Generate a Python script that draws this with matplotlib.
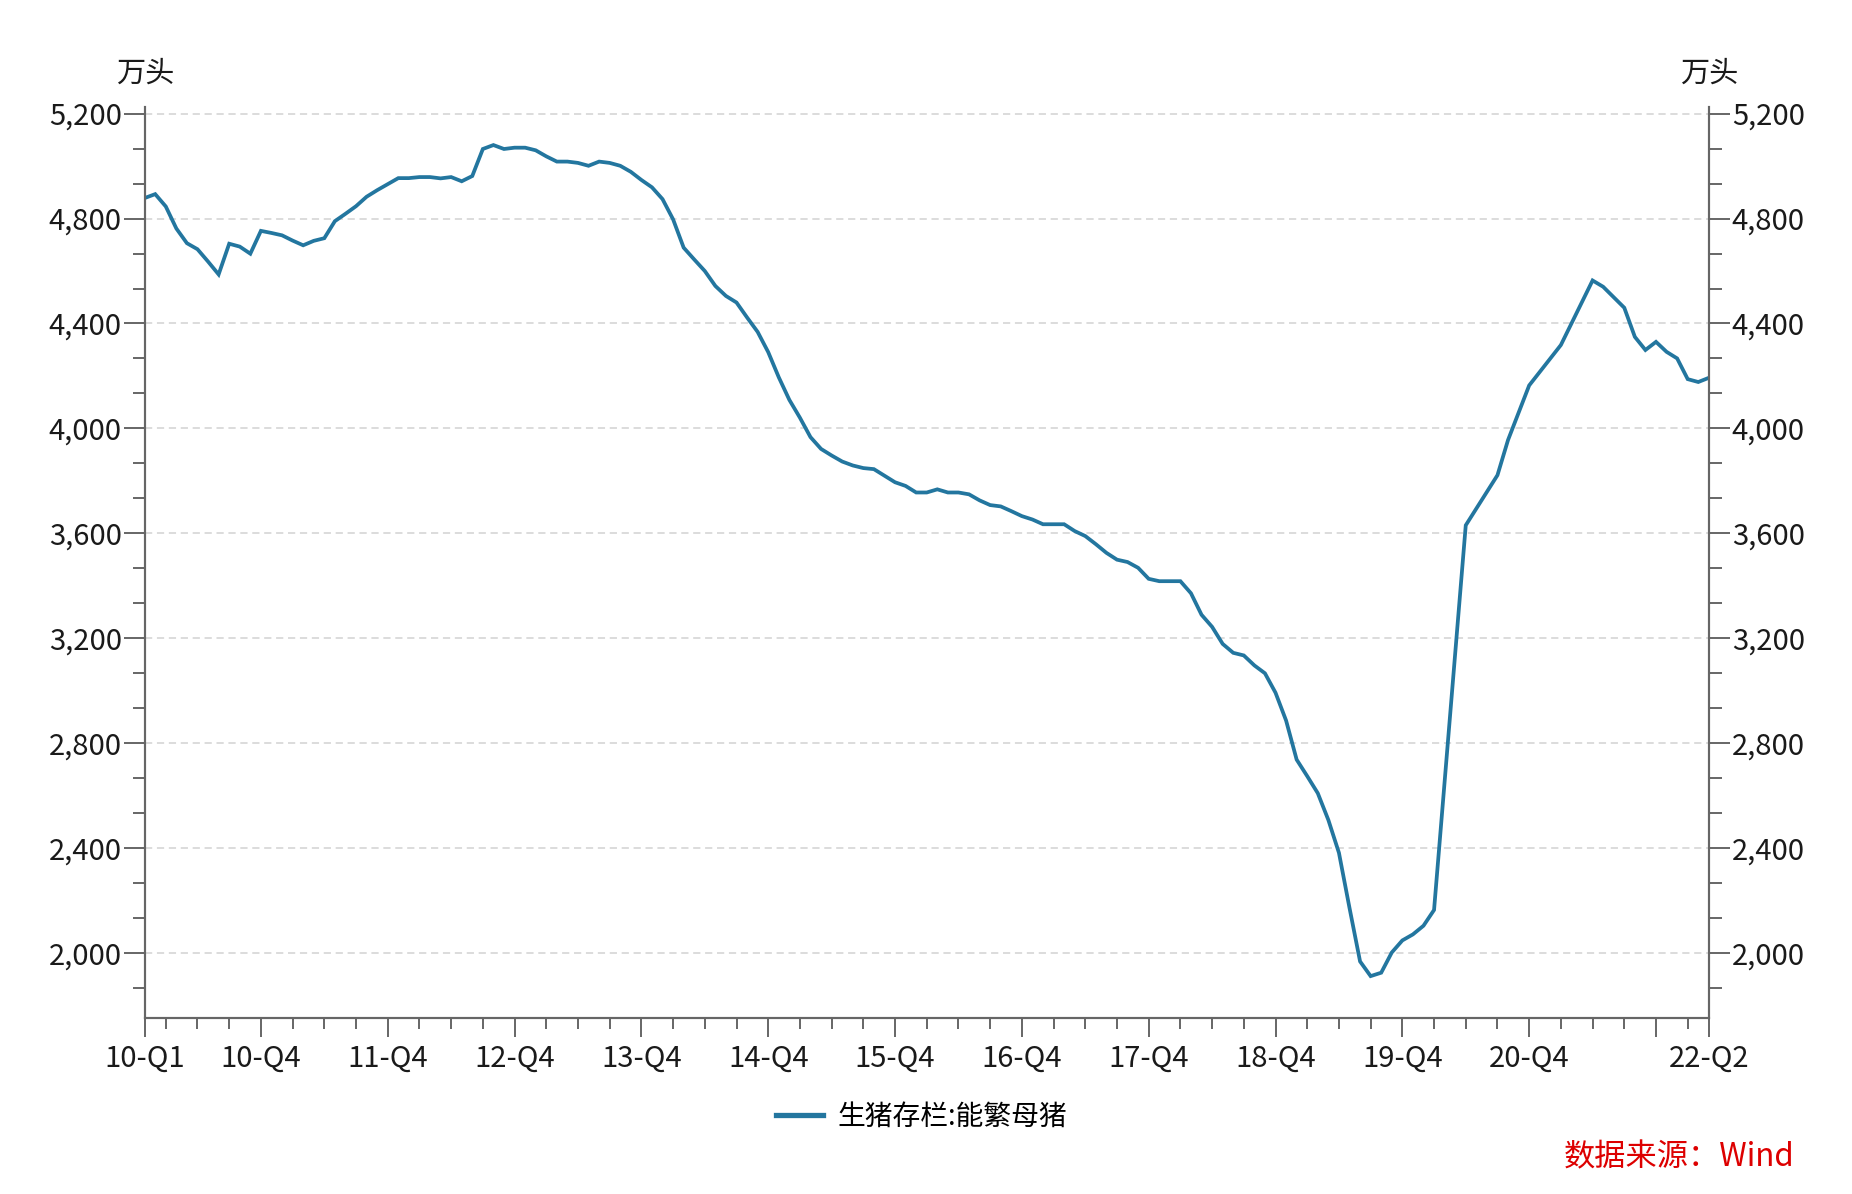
import matplotlib
matplotlib.use("Agg")
import matplotlib.pyplot as plt
from matplotlib.lines import Line2D
from matplotlib.ticker import MultipleLocator, FuncFormatter, FixedLocator

plt.rcParams['font.family'] = ['Noto Sans CJK SC', 'DejaVu Sans']

# month index counted from 2010-01 (gap in 2020 kept as in the source)
months = list(range(0, 123)) + [125, 128, 129, 131, 134, 137, 138] + list(range(140, 149))
sows = [4878, 4893, 4846, 4762, 4706, 4683, 4636, 4587, 4704, 4693, 4666, 4753,
        4745, 4736, 4716, 4698, 4715, 4725, 4790, 4818, 4847, 4883, 4908, 4931,
        4954, 4954, 4958, 4958, 4953, 4958, 4942, 4962, 5065, 5080, 5065, 5070,
        5070, 5060, 5037, 5017, 5017, 5012, 5001, 5017, 5012, 5001, 4978, 4947,
        4919, 4874, 4797, 4689, 4644, 4600, 4543, 4505, 4480, 4423, 4368, 4291,
        4195, 4109, 4041, 3967, 3922, 3897, 3874, 3859, 3849, 3845, 3820, 3795,
        3781, 3756, 3756, 3768, 3756, 3756, 3749, 3726, 3708, 3703, 3685, 3666,
        3653, 3635, 3635, 3635, 3609, 3590, 3559, 3526, 3500, 3491, 3469, 3427,
        3418, 3418, 3418, 3372, 3290, 3244, 3179, 3145, 3135, 3097, 3067, 2993,
        2887, 2738, 2675, 2610, 2508, 2383, 2173, 1969, 1913, 1926, 2003, 2049,
        2072, 2105, 2165,
        3631, 3822, 3956, 4164, 4318, 4564, 4540,
        4460, 4349, 4299, 4330, 4292, 4267, 4188, 4177, 4193]

major_pos = [0, 11, 23, 35, 47, 59, 71, 83, 95, 107, 119, 131, 143, 148]
major_lbl = ['10-Q1', '10-Q4', '11-Q4', '12-Q4', '13-Q4', '14-Q4', '15-Q4', '16-Q4',
             '17-Q4', '18-Q4', '19-Q4', '20-Q4', '', '22-Q2']
minor_pos = [m for m in range(2, 148, 3) if m not in major_pos]

series_name = '生猪存栏:能繁母猪'
unit = '万头'
source = '数据来源：Wind'

line_c = '#23769f'
axis_c = '#666666'

fig = plt.figure(figsize=(18.52, 11.94), dpi=100)
ax = fig.add_axes([0.0781, 0.1471, 0.8446, 0.7635])
ax2 = ax.twinx()

ax.plot(months, sows, color=line_c, lw=2.7, solid_joinstyle='miter', zorder=3)

ymin, ymax = 1752, 5226
for a in (ax, ax2):
    a.set_ylim(ymin, ymax)
    a.yaxis.set_major_locator(MultipleLocator(400))
    a.yaxis.set_minor_locator(MultipleLocator(400 / 3))
    a.yaxis.set_major_formatter(FuncFormatter(lambda v, p: f'{v:,.0f}'))
    a.spines['top'].set_visible(False)
    for s in ['left', 'right', 'bottom']:
        a.spines[s].set_color(axis_c)
        a.spines[s].set_linewidth(1.5)
    a.tick_params(axis='y', which='major', length=15, width=1.4, color=axis_c,
                  labelsize=21, labelcolor='#1a1a1a', pad=1.5)
    a.tick_params(axis='y', which='minor', length=9, width=1.4, color=axis_c)

ax.set_xlim(0, 148)
ax.xaxis.set_major_locator(FixedLocator(major_pos))
ax.set_xticklabels(major_lbl)
ax.xaxis.set_minor_locator(FixedLocator(minor_pos))
ax.tick_params(axis='x', which='major', length=14, width=1.4, color=axis_c,
               labelsize=21, labelcolor='#1a1a1a', pad=4)
ax.tick_params(axis='x', which='minor', length=8, width=1.4, color=axis_c)
ax2.tick_params(axis='x', which='both', length=0)

ax.grid(axis='y', which='major', color='#d9d9d9', lw=1.3, ls=(0, (4, 2.6)), zorder=0)
ax.set_axisbelow(True)

fig.text(0.0781, 0.938, unit, ha='center', va='center', fontsize=21, color='#1a1a1a')
fig.text(0.9227, 0.938, unit, ha='center', va='center', fontsize=21, color='#1a1a1a')

handle = Line2D([], [], color=line_c, lw=3.8)
fig.legend([handle], [series_name], loc='center', bbox_to_anchor=(0.4976, 0.0645),
           frameon=False, fontsize=20, handlelength=1.7, handletextpad=0.5)

fig.text(0.9687, 0.031, source, ha='right', va='center', fontsize=22.5, color='#dd0000')

fig.savefig('out.png', dpi=100)
